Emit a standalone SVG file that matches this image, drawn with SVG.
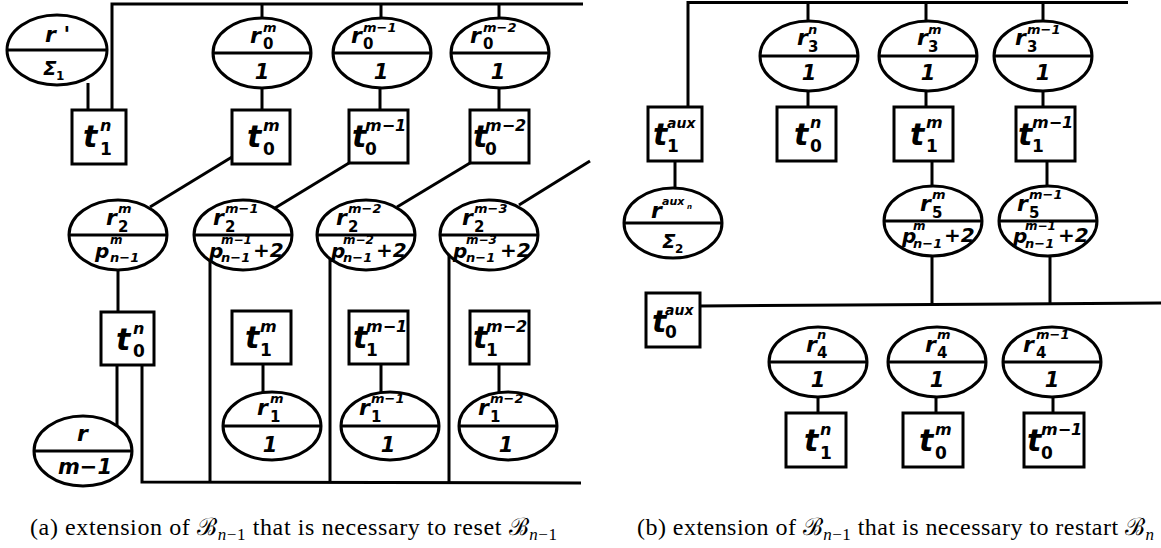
<svg xmlns="http://www.w3.org/2000/svg" width="1161" height="548" viewBox="0 0 1161 548">
<style>
.e{fill:#fff;stroke:#000;stroke-width:3}
.d{stroke:#000;stroke-width:3}
.b{fill:#fff;stroke:#000;stroke-width:3}
.c{stroke:#000;stroke-width:3;fill:none}
text{font-family:"DejaVu Sans",sans-serif;font-weight:bold;fill:#000}
.T{font-size:30px;font-style:italic}
.Ts{font-size:16px;font-style:italic}
.Tb{font-size:17px}
.R{font-size:22px;font-style:italic}
.Rs{font-size:13px;font-style:italic}
.Rb{font-size:15px}
.O{font-size:21px;font-style:italic}
.P{font-size:20px;font-style:italic}
.Ps{font-size:12px;font-style:italic}
.Pb{font-size:13px;font-style:italic}
.cap{font-family:"Liberation Serif","DejaVu Serif",serif;font-weight:normal;font-size:24px}
.ci{font-style:italic;font-size:17px}
.cs{font-size:17px}
</style>
<rect width="1161" height="548" fill="#fff"/>
<g id="connectors">
<polyline class="c" points="112,110 112,4 583,4"/>
<line class="c" x1="262" y1="4" x2="262" y2="18"/>
<line class="c" x1="381" y1="4" x2="381" y2="18"/>
<line class="c" x1="499" y1="4" x2="499" y2="18"/>
<line class="c" x1="88" y1="83" x2="88" y2="110"/>
<line class="c" x1="262" y1="88" x2="262" y2="110"/>
<line class="c" x1="380" y1="88" x2="380" y2="110"/>
<line class="c" x1="499" y1="88" x2="499" y2="110"/>
<line class="c" x1="232" y1="157" x2="150" y2="207"/>
<line class="c" x1="349" y1="163" x2="275" y2="208"/>
<line class="c" x1="470" y1="163" x2="397" y2="207"/>
<line class="c" x1="590" y1="161" x2="519" y2="205"/>
<line class="c" x1="118" y1="270" x2="118" y2="312"/>
<line class="c" x1="117" y1="365" x2="117" y2="425"/>
<polyline class="c" points="142,365 142,482 581,483"/>
<line class="c" x1="210" y1="261" x2="210" y2="482"/>
<line class="c" x1="330" y1="259" x2="330" y2="483"/>
<line class="c" x1="449" y1="255" x2="449" y2="483"/>
<line class="c" x1="263" y1="364" x2="263" y2="393"/>
<line class="c" x1="381" y1="364" x2="381" y2="393"/>
<line class="c" x1="499" y1="364" x2="499" y2="393"/>
<polyline class="c" points="688,107 688,2.5 1128,2.5"/>
<line class="c" x1="808" y1="2" x2="808" y2="22"/>
<line class="c" x1="926" y1="2" x2="926" y2="22"/>
<line class="c" x1="1043" y1="2" x2="1043" y2="22"/>
<line class="c" x1="675" y1="161" x2="675" y2="188"/>
<line class="c" x1="808" y1="91" x2="808" y2="107"/>
<line class="c" x1="926" y1="91" x2="926" y2="107"/>
<line class="c" x1="1043" y1="91" x2="1043" y2="107"/>
<line class="c" x1="932" y1="161" x2="932" y2="187"/>
<line class="c" x1="1047" y1="161" x2="1047" y2="187"/>
<line class="c" x1="932" y1="256" x2="932" y2="305"/>
<line class="c" x1="1050" y1="256" x2="1050" y2="305"/>
<line class="c" x1="700" y1="306" x2="1161" y2="303"/>
<line class="c" x1="818" y1="397" x2="818" y2="413"/>
<line class="c" x1="936" y1="397" x2="936" y2="413"/>
<line class="c" x1="1053" y1="397" x2="1053" y2="413"/>
</g>

<g id="rprime">
<ellipse class="e" cx="57" cy="50" rx="50" ry="35"/><line class="d" x1="7" y1="50" x2="107" y2="50"/>
<text class="R" x="45" y="42">r '</text>
<text><tspan class="P" x="43" y="75">Σ</tspan><tspan class="Ps" x="56" y="80" style="font-style:normal">1</tspan></text>
</g>
<g id="t1n_a">
<rect class="b" x="72" y="110" width="54" height="54"/>
<text><tspan class="T" x="83" y="147">t</tspan><tspan class="Ts" x="100" y="131">n</tspan><tspan class="Tb" x="100" y="155">1</tspan></text>
</g>
<g id="r0m">
<ellipse class="e" cx="262" cy="53" rx="49" ry="35"/><line class="d" x1="213" y1="53" x2="311" y2="53"/>
<text><tspan class="R" x="250" y="43">r</tspan><tspan class="Rs" x="263" y="32">m</tspan><tspan class="Rb" x="263" y="49">0</tspan></text>
<text class="O" x="262" y="79" text-anchor="middle">1</text>
</g>
<g id="r0m1">
<ellipse class="e" cx="382" cy="53" rx="49" ry="35"/><line class="d" x1="333" y1="53" x2="431" y2="53"/>
<text><tspan class="R" x="351" y="43">r</tspan><tspan class="Rs" x="363" y="32">m−1</tspan><tspan class="Rb" x="363" y="49">0</tspan></text>
<text class="O" x="381" y="79" text-anchor="middle">1</text>
</g>
<g id="r0m2">
<ellipse class="e" cx="500" cy="53" rx="49" ry="35"/><line class="d" x1="451" y1="53" x2="549" y2="53"/>
<text><tspan class="R" x="470" y="43">r</tspan><tspan class="Rs" x="483" y="32">m−2</tspan><tspan class="Rb" x="483" y="49">0</tspan></text>
<text class="O" x="498" y="79" text-anchor="middle">1</text>
</g>
<g id="t0m_a">
<rect class="b" x="232" y="110" width="58" height="54"/>
<text><tspan class="T" x="247" y="147">t</tspan><tspan class="Ts" x="263" y="131">m</tspan><tspan class="Tb" x="263" y="155">0</tspan></text>
</g>
<g id="t0m1_a">
<rect class="b" x="349" y="110" width="59" height="53"/>
<text><tspan class="T" x="352" y="147">t</tspan><tspan class="Ts" x="365" y="131">m−1</tspan><tspan class="Tb" x="365" y="155">0</tspan></text>
</g>
<g id="t0m2_a">
<rect class="b" x="470" y="110" width="59" height="53"/>
<text><tspan class="T" x="473" y="147">t</tspan><tspan class="Ts" x="485" y="131">m−2</tspan><tspan class="Tb" x="485" y="155">0</tspan></text>
</g>
<g id="r2m">
<ellipse class="e" cx="118" cy="235" rx="49" ry="35"/><line class="d" x1="69" y1="235" x2="167" y2="235"/>
<text><tspan class="R" x="106" y="225">r</tspan><tspan class="Rs" x="118" y="213">m</tspan><tspan class="Rb" x="118" y="232">2</tspan></text>
<text><tspan class="P" x="95" y="258">p</tspan><tspan class="Ps" x="110" y="244">m</tspan><tspan class="Pb" x="110" y="262">n−1</tspan></text>
</g>
<g id="r2m1">
<ellipse class="e" cx="243" cy="235" rx="49" ry="35"/><line class="d" x1="194" y1="235" x2="292" y2="235"/>
<text><tspan class="R" x="213" y="225">r</tspan><tspan class="Rs" x="225" y="213">m−1</tspan><tspan class="Rb" x="225" y="232">2</tspan></text>
<text><tspan class="P" x="209" y="258">p</tspan><tspan class="Ps" x="221" y="244">m−1</tspan><tspan class="Pb" x="221" y="262">n−1</tspan><tspan class="P" x="253" y="257">+2</tspan></text>
</g>
<g id="r2m2">
<ellipse class="e" cx="366" cy="235" rx="49" ry="35"/><line class="d" x1="317" y1="235" x2="415" y2="235"/>
<text><tspan class="R" x="336" y="225">r</tspan><tspan class="Rs" x="348" y="213">m−2</tspan><tspan class="Rb" x="348" y="232">2</tspan></text>
<text><tspan class="P" x="331" y="258">p</tspan><tspan class="Ps" x="343" y="244">m−2</tspan><tspan class="Pb" x="343" y="262">n−1</tspan><tspan class="P" x="376" y="257">+2</tspan></text>
</g>
<g id="r2m3">
<ellipse class="e" cx="489" cy="235" rx="49" ry="35"/><line class="d" x1="440" y1="235" x2="538" y2="235"/>
<text><tspan class="R" x="462" y="225">r</tspan><tspan class="Rs" x="474" y="213">m−3</tspan><tspan class="Rb" x="474" y="232">2</tspan></text>
<text><tspan class="P" x="453" y="258">p</tspan><tspan class="Ps" x="466" y="244">m−3</tspan><tspan class="Pb" x="466" y="262">n−1</tspan><tspan class="P" x="500" y="257">+2</tspan></text>
</g>
<g id="t0n_a">
<rect class="b" x="101" y="312" width="53" height="53"/>
<text><tspan class="T" x="116" y="350">t</tspan><tspan class="Ts" x="133" y="334">n</tspan><tspan class="Tb" x="133" y="357">0</tspan></text>
</g>
<g id="t1m_a">
<rect class="b" x="232" y="311" width="59" height="53"/>
<text><tspan class="T" x="245" y="348">t</tspan><tspan class="Ts" x="260" y="332">m</tspan><tspan class="Tb" x="260" y="356">1</tspan></text>
</g>
<g id="t1m1_a">
<rect class="b" x="349" y="311" width="59" height="53"/>
<text><tspan class="T" x="353" y="348">t</tspan><tspan class="Ts" x="366" y="332">m−1</tspan><tspan class="Tb" x="366" y="356">1</tspan></text>
</g>
<g id="t1m2_a">
<rect class="b" x="470" y="311" width="59" height="53"/>
<text><tspan class="T" x="473" y="348">t</tspan><tspan class="Ts" x="486" y="332">m−2</tspan><tspan class="Tb" x="486" y="356">1</tspan></text>
</g>
<g id="r1m">
<ellipse class="e" cx="272" cy="426" rx="49" ry="34"/><line class="d" x1="223" y1="426" x2="321" y2="426"/>
<text><tspan class="R" x="257" y="415">r</tspan><tspan class="Rs" x="270" y="403">m</tspan><tspan class="Rb" x="270" y="422">1</tspan></text>
<text class="O" x="270" y="452" text-anchor="middle">1</text>
</g>
<g id="r1m1">
<ellipse class="e" cx="390" cy="426" rx="49" ry="34"/><line class="d" x1="341" y1="426" x2="439" y2="426"/>
<text><tspan class="R" x="359" y="415">r</tspan><tspan class="Rs" x="371" y="403">m−1</tspan><tspan class="Rb" x="371" y="422">1</tspan></text>
<text class="O" x="388" y="452" text-anchor="middle">1</text>
</g>
<g id="r1m2">
<ellipse class="e" cx="508" cy="426" rx="49" ry="34"/><line class="d" x1="459" y1="426" x2="557" y2="426"/>
<text><tspan class="R" x="478" y="415">r</tspan><tspan class="Rs" x="490" y="403">m−2</tspan><tspan class="Rb" x="490" y="422">1</tspan></text>
<text class="O" x="506" y="452" text-anchor="middle">1</text>
</g>
<g id="r_m1">
<ellipse class="e" cx="83" cy="451" rx="49" ry="35"/><line class="d" x1="34" y1="451" x2="132" y2="451"/>
<text class="R" x="77" y="441">r</text>
<text class="O" x="85" y="474" text-anchor="middle">m−1</text>
</g>

<g id="t1aux">
<rect class="b" x="648" y="107" width="54" height="54"/>
<text><tspan class="T" x="653" y="145">t</tspan><tspan class="Ts" x="667" y="128" style="font-size:14px">aux</tspan><tspan class="Tb" x="667" y="152">1</tspan></text>
</g>
<g id="raux">
<ellipse class="e" cx="673" cy="223" rx="49" ry="35"/><line class="d" x1="624" y1="223" x2="722" y2="223"/>
<text><tspan class="R" x="651" y="218">r</tspan><tspan class="Ps" x="662" y="205" style="font-size:11px">aux</tspan><tspan class="Ps" x="687" y="209" style="font-size:7px">n</tspan></text>
<text><tspan class="P" x="662" y="248">Σ</tspan><tspan class="Ps" x="675" y="253" style="font-style:normal">2</tspan></text>
</g>
<g id="r3n">
<ellipse class="e" cx="809" cy="56" rx="49" ry="35"/><line class="d" x1="760" y1="56" x2="858" y2="56"/>
<text><tspan class="R" x="797" y="45">r</tspan><tspan class="Rs" x="808" y="34">n</tspan><tspan class="Rb" x="808" y="52">3</tspan></text>
<text class="O" x="809" y="80" text-anchor="middle">1</text>
</g>
<g id="r3m">
<ellipse class="e" cx="928" cy="56" rx="49" ry="35"/><line class="d" x1="879" y1="56" x2="977" y2="56"/>
<text><tspan class="R" x="917" y="45">r</tspan><tspan class="Rs" x="928" y="34">m</tspan><tspan class="Rb" x="928" y="52">3</tspan></text>
<text class="O" x="928" y="80" text-anchor="middle">1</text>
</g>
<g id="r3m1">
<ellipse class="e" cx="1043" cy="56" rx="49" ry="35"/><line class="d" x1="994" y1="56" x2="1092" y2="56"/>
<text><tspan class="R" x="1015" y="45">r</tspan><tspan class="Rs" x="1027" y="34">m−1</tspan><tspan class="Rb" x="1027" y="52">3</tspan></text>
<text class="O" x="1043" y="80" text-anchor="middle">1</text>
</g>
<g id="t0n_b">
<rect class="b" x="777" y="107" width="59" height="54"/>
<text><tspan class="T" x="794" y="145">t</tspan><tspan class="Ts" x="810" y="128">n</tspan><tspan class="Tb" x="810" y="152">0</tspan></text>
</g>
<g id="t1m_b">
<rect class="b" x="894" y="107" width="59" height="54"/>
<text><tspan class="T" x="910" y="145">t</tspan><tspan class="Ts" x="926" y="128">m</tspan><tspan class="Tb" x="926" y="152">1</tspan></text>
</g>
<g id="t1m1_b">
<rect class="b" x="1016" y="107" width="59" height="54"/>
<text><tspan class="T" x="1018" y="145">t</tspan><tspan class="Ts" x="1032" y="128">m−1</tspan><tspan class="Tb" x="1032" y="152">1</tspan></text>
</g>
<g id="r5m">
<ellipse class="e" cx="933" cy="221" rx="49" ry="35"/><line class="d" x1="884" y1="221" x2="982" y2="221"/>
<text><tspan class="R" x="920" y="211">r</tspan><tspan class="Rs" x="932" y="199">m</tspan><tspan class="Rb" x="932" y="218">5</tspan></text>
<text><tspan class="P" x="902" y="243">p</tspan><tspan class="Ps" x="913" y="230">m</tspan><tspan class="Pb" x="913" y="248">n−1</tspan><tspan class="P" x="944" y="242">+2</tspan></text>
</g>
<g id="r5m1">
<ellipse class="e" cx="1048" cy="221" rx="49" ry="35"/><line class="d" x1="999" y1="221" x2="1097" y2="221"/>
<text><tspan class="R" x="1017" y="211">r</tspan><tspan class="Rs" x="1029" y="199">m−1</tspan><tspan class="Rb" x="1029" y="218">5</tspan></text>
<text><tspan class="P" x="1013" y="243">p</tspan><tspan class="Ps" x="1025" y="230">m−1</tspan><tspan class="Pb" x="1025" y="248">n−1</tspan><tspan class="P" x="1058" y="242">+2</tspan></text>
</g>
<g id="t0aux">
<rect class="b" x="646" y="293" width="54" height="54"/>
<text><tspan class="T" x="652" y="332">t</tspan><tspan class="Ts" x="665" y="315" style="font-size:14px">aux</tspan><tspan class="Tb" x="665" y="338">0</tspan></text>
</g>
<g id="r4n">
<ellipse class="e" cx="818" cy="362" rx="49" ry="35"/><line class="d" x1="769" y1="362" x2="867" y2="362"/>
<text><tspan class="R" x="806" y="352">r</tspan><tspan class="Rs" x="817" y="339">n</tspan><tspan class="Rb" x="817" y="358">4</tspan></text>
<text class="O" x="818" y="387" text-anchor="middle">1</text>
</g>
<g id="r4m">
<ellipse class="e" cx="937" cy="362" rx="49" ry="35"/><line class="d" x1="888" y1="362" x2="986" y2="362"/>
<text><tspan class="R" x="925" y="352">r</tspan><tspan class="Rs" x="937" y="339">m</tspan><tspan class="Rb" x="937" y="358">4</tspan></text>
<text class="O" x="937" y="387" text-anchor="middle">1</text>
</g>
<g id="r4m1">
<ellipse class="e" cx="1052" cy="362" rx="49" ry="35"/><line class="d" x1="1003" y1="362" x2="1101" y2="362"/>
<text><tspan class="R" x="1023" y="352">r</tspan><tspan class="Rs" x="1036" y="339">m−1</tspan><tspan class="Rb" x="1036" y="358">4</tspan></text>
<text class="O" x="1052" y="387" text-anchor="middle">1</text>
</g>
<g id="t1n_b">
<rect class="b" x="786" y="413" width="60" height="54"/>
<text><tspan class="T" x="804" y="451">t</tspan><tspan class="Ts" x="820" y="435">n</tspan><tspan class="Tb" x="820" y="459">1</tspan></text>
</g>
<g id="t0m_b">
<rect class="b" x="903" y="413" width="60" height="54"/>
<text><tspan class="T" x="919" y="451">t</tspan><tspan class="Ts" x="935" y="435">m</tspan><tspan class="Tb" x="935" y="459">0</tspan></text>
</g>
<g id="t0m1_b">
<rect class="b" x="1024" y="413" width="60" height="54"/>
<text><tspan class="T" x="1027" y="451">t</tspan><tspan class="Ts" x="1041" y="435">m−1</tspan><tspan class="Tb" x="1041" y="459">0</tspan></text>
</g>

<g id="captions">
<text class="cap" x="30" y="535" textLength="527" lengthAdjust="spacing">(a) extension of ℬ<tspan class="ci" dy="5">n</tspan><tspan class="cs">−1</tspan><tspan dy="-5"> that is necessary to reset ℬ</tspan><tspan class="ci" dy="5">n</tspan><tspan class="cs">−1</tspan></text>
<text class="cap" x="637" y="535" textLength="517" lengthAdjust="spacing">(b) extension of ℬ<tspan class="ci" dy="5">n</tspan><tspan class="cs">−1</tspan><tspan dy="-5"> that is necessary to restart ℬ</tspan><tspan class="ci" dy="5">n</tspan></text>
</g>
</svg>
